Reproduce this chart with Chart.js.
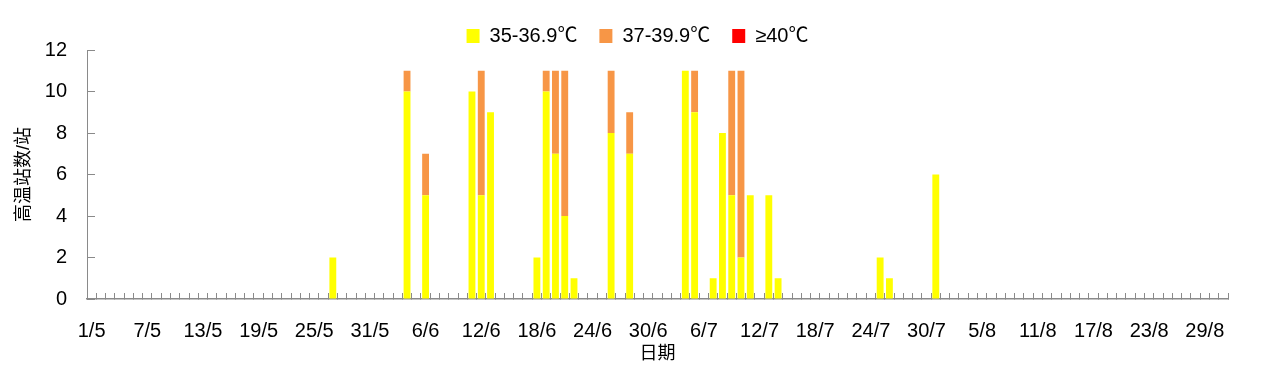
<!DOCTYPE html>
<html>
<head>
<meta charset="utf-8">
<script src="https://cdn.jsdelivr.net/npm/chart.js@4"></script>
<style>
html,body{margin:0;padding:0;background:#fff;}
#wrap{width:1269px;height:371px;position:relative;}
</style>
</head>
<body>
<div id="wrap"><canvas id="c" width="1269" height="371"></canvas></div>
<script>
// Months covered (May–Aug) and their lengths, used to build day categories
const months = [5, 6, 7, 8];
const monthDays = [31, 30, 31, 31];

// Days with high-temperature stations and counts per class
const hotDays   = ['27/5','4/6','6/6','11/6','12/6','13/6','18/6','19/6','20/6','21/6','22/6','26/6','28/6','4/7','5/7','7/7','8/7','9/7','10/7','11/7','13/7','14/7','25/7','26/7','31/7'];
const yellowVals = [2, 10, 5, 10, 5, 9, 2, 10, 7, 4, 1, 8, 7, 11, 9, 1, 8, 5, 2, 5, 5, 1, 2, 1, 6];
const orangeVals = [0, 1, 2, 0, 6, 0, 0, 1, 4, 7, 0, 3, 2, 0, 2, 0, 0, 6, 9, 0, 0, 0, 0, 0, 0];
const redVals    = [0, 0, 0, 0, 0, 0, 0, 0, 0, 0, 0, 0, 0, 0, 0, 0, 0, 0, 0, 0, 0, 0, 0, 0, 0];

const seriesNames = ['35-36.9℃', '37-39.9℃', '≥40℃'];
const yTicks = [0, 2, 4, 6, 8, 10, 12];

const categories = [];
months.forEach((m, k) => { for (let d = 1; d <= monthDays[k]; d++) categories.push(d + '/' + m); });

function expand(vals) {
  return categories.map(c => { const i = hotDays.indexOf(c); return (i >= 0 && vals[i] > 0) ? vals[i] : null; });
}

const FONT = "'Liberation Sans', 'Noto Sans CJK SC', sans-serif";
const axisColor = '#8a8a8a';

const legendLayout = {
  id: 'legendLayout',
  beforeInit(chart) {
    const fit = chart.legend.fit;
    chart.legend.fit = function () { fit.bind(chart.legend)(); this.height = 46; };
  },
  afterLayout(chart) {
    const lg = chart.legend;
    lg.left = 6; lg.right = chart.width; lg.width = chart.width - 6;
  }
};

new Chart(document.getElementById('c'), {
  type: 'bar',
  data: {
    labels: categories,
    datasets: [
      { label: seriesNames[0], data: expand(yellowVals), backgroundColor: '#FFFF00' },
      { label: seriesNames[1], data: expand(orangeVals), backgroundColor: '#F79646' },
      { label: seriesNames[2], data: expand(redVals), backgroundColor: '#FF0000' }
    ]
  },
  options: {
    responsive: false,
    animation: false,
    devicePixelRatio: 1,
    layout: { padding: { left: 0, right: 41, top: 4, bottom: 0 } },
    datasets: { bar: { barPercentage: 0.74, categoryPercentage: 1, borderWidth: 0 } },
    plugins: {
      legend: {
        position: 'top',
        labels: {
          font: { family: FONT, size: 20 },
          color: '#000',
          boxWidth: 13,
          boxHeight: 14,
          padding: 22
        }
      },
      tooltip: { enabled: false }
    },
    scales: {
      x: {
        stacked: true,
        offset: true,
        border: { display: true, color: axisColor, width: 1.5 },
        grid: { display: true, drawOnChartArea: false, drawTicks: true, tickLength: -6, color: axisColor, lineWidth: 1, offset: true },
        ticks: {
          autoSkip: false, maxRotation: 0, minRotation: 0, padding: 26,
          font: { family: FONT, size: 20 }, color: '#000',
          callback: function (v, i) { return i % 6 === 0 ? categories[i] : ''; }
        },
        title: { display: true, text: '日期', font: { family: FONT, size: 18 }, color: '#000', padding: { top: 0, bottom: 6 } },
        afterFit(scale) { scale.height = 72; }
      },
      y: {
        stacked: true,
        min: 0, max: 12,
        border: { display: true, color: axisColor, width: 1 },
        grid: { display: true, drawOnChartArea: false, drawTicks: true, tickLength: -8, color: axisColor, lineWidth: 1 },
        afterBuildTicks(scale) { scale.ticks = yTicks.map(v => ({ value: v })); },
        ticks: { padding: 28, font: { family: FONT, size: 20 }, color: '#000' },
        title: { display: true, text: '高温站数/站', font: { family: FONT, size: 18 }, color: '#000', padding: { top: 13, bottom: 0 } },
        afterFit(scale) { scale.width = 87; }
      }
    }
  },
  plugins: [legendLayout]
});
</script>
</body>
</html>
